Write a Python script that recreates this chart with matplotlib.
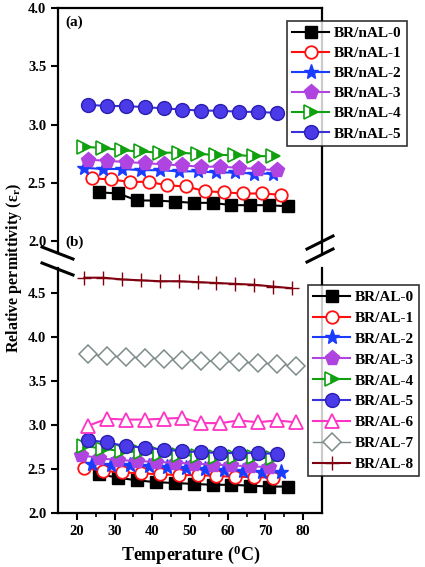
import numpy as np
import matplotlib
matplotlib.use('Agg')
import matplotlib.pyplot as plt
from matplotlib.lines import Line2D

plt.rcParams['font.family'] = ['Liberation Serif', 'DejaVu Serif']
plt.rcParams['font.weight'] = 'bold'
plt.rcParams['mathtext.fontset'] = 'custom'
plt.rcParams['mathtext.rm'] = 'Liberation Serif:bold'
plt.rcParams['mathtext.it'] = 'Liberation Serif:bold'

# panel (a): BR/nAL series
nal_labels = ['BR/nAL-0', 'BR/nAL-1', 'BR/nAL-2', 'BR/nAL-3', 'BR/nAL-4', 'BR/nAL-5']
nal_x = [
    [26, 31, 36, 41, 46, 51, 56, 61, 66, 71, 76],
    [24, 29, 34, 39, 44, 49, 54, 59, 64, 69, 74],
    [22, 27, 32, 37, 42, 47, 52, 57, 62, 67, 72],
    [23, 28, 33, 38, 43, 48, 53, 58, 63, 68, 73],
    [22, 27, 32, 37, 42, 47, 52, 57, 62, 67, 72],
    [23, 28, 33, 38, 43, 48, 53, 58, 63, 68, 73],
]
nal_y = [
    [2.42, 2.41, 2.35, 2.35, 2.34, 2.33, 2.33, 2.31, 2.31, 2.31, 2.30],
    [2.54, 2.53, 2.51, 2.51, 2.48, 2.47, 2.43, 2.42, 2.41, 2.41, 2.40],
    [2.63, 2.62, 2.62, 2.61, 2.61, 2.60, 2.60, 2.59, 2.59, 2.58, 2.58],
    [2.70, 2.69, 2.68, 2.67, 2.66, 2.65, 2.64, 2.64, 2.63, 2.62, 2.61],
    [2.81, 2.80, 2.78, 2.77, 2.76, 2.76, 2.75, 2.74, 2.74, 2.73, 2.73],
    [3.17, 3.16, 3.16, 3.15, 3.14, 3.13, 3.12, 3.12, 3.11, 3.11, 3.10],
]

# panel (b): BR/AL series
al_labels = ['BR/AL-0', 'BR/AL-1', 'BR/AL-2', 'BR/AL-3', 'BR/AL-4',
             'BR/AL-5', 'BR/AL-6', 'BR/AL-7', 'BR/AL-8']
al_x = [
    [26, 31, 36, 41, 46, 51, 56, 61, 66, 71, 76],
    [22, 27, 32, 37, 42, 47, 52, 57, 62, 67, 72],
    [24, 29, 34, 39, 44, 49, 54, 59, 64, 69, 74],
    [21, 26, 31, 36, 41, 46, 51, 56, 61, 66, 71],
    [22, 27, 32, 37, 42, 47, 52, 57, 62, 67, 72],
    [23, 28, 33, 38, 43, 48, 53, 58, 63, 68, 73],
    [23, 28, 33, 38, 43, 48, 53, 58, 63, 68, 73, 78],
    [23, 28, 33, 38, 43, 48, 53, 58, 63, 68, 73, 78],
    [22, 27, 32, 37, 42, 47, 52, 57, 62, 67, 72, 77],
]
al_y = [
    [2.44, 2.40, 2.37, 2.35, 2.34, 2.33, 2.32, 2.32, 2.31, 2.30, 2.30],
    [2.51, 2.48, 2.46, 2.45, 2.44, 2.43, 2.43, 2.42, 2.41, 2.41, 2.40],
    [2.56, 2.55, 2.54, 2.53, 2.52, 2.51, 2.50, 2.49, 2.48, 2.47, 2.46],
    [2.66, 2.62, 2.60, 2.59, 2.58, 2.57, 2.56, 2.55, 2.54, 2.53, 2.52],
    [2.76, 2.73, 2.70, 2.69, 2.67, 2.66, 2.65, 2.64, 2.63, 2.63, 2.62],
    [2.83, 2.80, 2.76, 2.74, 2.72, 2.70, 2.69, 2.68, 2.68, 2.68, 2.67],
    [2.99, 3.07, 3.06, 3.06, 3.07, 3.08, 3.02, 3.02, 3.05, 3.03, 3.05, 3.03],
    [3.80, 3.78, 3.77, 3.76, 3.75, 3.74, 3.73, 3.72, 3.71, 3.70, 3.69, 3.67],
    [4.67, 4.67, 4.65, 4.64, 4.63, 4.63, 4.62, 4.61, 4.60, 4.59, 4.57, 4.55],
]

styles = [
    dict(color='black', marker='s', mfc='black', mec='black', ms=8.5),
    dict(color='#ff1010', marker='o', mfc='white', mec='#ff1010', ms=9, mew=1.3),
    dict(color='#1a3cff', marker='*', mfc='#1a3cff', mec='#1a3cff', ms=11),
    dict(color='#b044e0', marker='p', mfc='#b044e0', mec='#b044e0', ms=11),
    dict(color='#10a010', marker='>', mfc='#10a010', mec='#10a010', ms=9.5,
         fillstyle='right', markerfacecoloralt='white', mew=1.2),
    dict(color='#3a2fd8', marker='o', mfc='#4a3ae8', mec='#2a1fb0', ms=10),
    dict(color='#ff33c4', marker='^', mfc='white', mec='#ff33c4', ms=10, mew=1.3),
    dict(color='#7f8c8c', marker='D', mfc='white', mec='#7f8c8c', ms=9, mew=1.1, lw=1.0),
    dict(color='#800010', marker='+', mfc='#800010', mec='#800010', ms=10, mew=1.0),
]

W, H = 425, 567
fig = plt.figure(figsize=(W / 100, H / 100), dpi=100)


def fx(px):
    return px / W


def fy(py):
    return 1 - py / H


left, right = 58, 322
ax1 = fig.add_axes([fx(left), fy(253), fx(right - left), (253 - 8) / H])
ax2 = fig.add_axes([fx(left), fy(513), fx(right - left), (513 - 268) / H])

for i in range(6):
    st = dict(lw=1.5)
    st.update(styles[i])
    ax1.plot(nal_x[i], nal_y[i], label=nal_labels[i], **st)

for i in range(9):
    st = dict(lw=1.5)
    st.update(styles[i])
    ax2.plot(al_x[i], al_y[i], label=al_labels[i], **st)

for ax in (ax1, ax2):
    ax.set_xlim(15, 85)
    for s in ax.spines.values():
        s.set_linewidth(1.6)
    ax.tick_params(direction='out', length=5, width=1.5, labelsize=10.5)
    ax.yaxis.set_major_formatter(matplotlib.ticker.FormatStrFormatter('%.1f'))

ax1.set_ylim(1.9, 4.0)
ax1.set_yticks([2.0, 2.5, 3.0, 3.5, 4.0])
ax1.spines['bottom'].set_visible(False)
ax1.tick_params(axis='x', bottom=False, labelbottom=False)

ax2.set_ylim(2.0, 4.78)
ax2.set_yticks([2.0, 2.5, 3.0, 3.5, 4.0, 4.5])
ax2.spines['top'].set_visible(False)
ax2.set_xticks([20, 30, 40, 50, 60, 70, 80])
ax2.set_xticks(np.arange(20, 85, 5), minor=True)
ax2.tick_params(axis='x', which='minor', direction='out', length=3, width=1.2)

# break marks: "\\" on the left spine, "//" on the right one
for x0, x1, ys, dy in [(42, 73, [247, 263], 12), (307, 333, [262, 249], -13)]:
    for yb in ys:
        fig.add_artist(Line2D([fx(x0), fx(x1)], [fy(yb), fy(yb + dy)],
                              color='black', lw=2.2))

fig.text(fx(65), fy(22), '(a)', fontsize=11, va='center', ha='left')
fig.text(fx(65), fy(242), '(b)', fontsize=11, va='center', ha='left')

fig.text(fx(14), fy(268), r'Relative permittivity (ε$_\mathregular{r}$)',
         rotation=90, fontsize=11.5, va='center', ha='center')
fig.text(fx(191), fy(555), r'Temperature ($\mathregular{^0}$C)',
         fontsize=13, va='center', ha='center')

leg_kw = dict(loc='upper left', bbox_transform=fig.transFigure, numpoints=1,
              fontsize=11, frameon=True, fancybox=False, edgecolor='black',
              handlelength=2.4, handletextpad=0.3,
              borderpad=0.35, borderaxespad=0)
l1 = fig.legend(handles=ax1.get_lines(), bbox_to_anchor=(fx(287), fy(21)),
                labelspacing=0.42, **leg_kw)
l2 = fig.legend(handles=ax2.get_lines(), bbox_to_anchor=(fx(308), fy(285)),
                labelspacing=0.47, **leg_kw)
for lg in (l1, l2):
    lg.get_frame().set_linewidth(1.2)

fig.savefig('out.png', dpi=100)
